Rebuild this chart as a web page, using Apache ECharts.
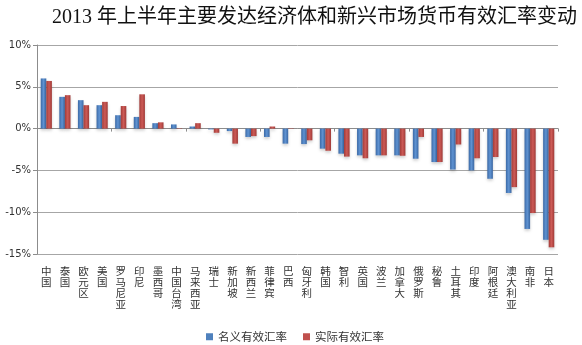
<!DOCTYPE html>
<html><head><meta charset="utf-8">
<script src="https://cdn.jsdelivr.net/npm/echarts@6/dist/echarts.min.js"></script>
<style>html,body{margin:0;padding:0;background:#fff}#c{width:582px;height:345px}</style>
</head><body><div id="c"></div>
<script>
const titleText = '2013 年上半年主要发达经济体和新兴市场货币有效汇率变动';
const categories = ['中国','泰国','欧元区','美国','罗马尼亚','印尼','墨西哥','中国台湾','马来西亚','瑞士','新加坡','新西兰','菲律宾','巴西','匈牙利','韩国','智利','英国','波兰','加拿大','俄罗斯','秘鲁','土耳其','印度','阿根廷','澳大利亚','南非','日本'];
const seriesNames = ['名义有效汇率','实际有效汇率'];
const nominal = [6.0,3.8,3.4,2.8,1.6,1.4,0.65,0.5,0.25,-0.1,-0.3,-1.0,-1.0,-1.8,-1.85,-2.4,-3.0,-3.2,-3.2,-3.2,-3.6,-4.0,-4.9,-5.0,-6.0,-7.7,-12.0,-13.3];
const real = [5.7,4.0,2.8,3.2,2.7,4.1,0.75,0.05,0.65,-0.5,-1.8,-0.9,0.25,-0.05,-1.4,-2.65,-3.35,-3.55,-3.2,-3.25,-1.0,-4.0,-1.9,-3.55,-3.4,-7.0,-10.1,-14.2];
const yTicks = {min:-15, max:10, interval:5};

const chart = echarts.init(document.getElementById('c'));
function grad(c1,c2,c3){return new echarts.graphic.LinearGradient(0,0,1,0,[{offset:0,color:c1},{offset:0.5,color:c2},{offset:1,color:c3}]);}
chart.setOption({
  animation:false,
  backgroundColor:'#fff',
  title:{text:titleText,left:47,top:3,textStyle:{fontFamily:"'Liberation Serif','Noto Sans CJK SC',serif",fontSize:20,fontWeight:'normal',color:'#111'}},
  legend:{data:[{name:seriesNames[0],itemStyle:{color:'#4f81bd'}},{name:seriesNames[1],itemStyle:{color:'#c0504d'}}],
    left:201,top:326,icon:'rect',itemWidth:7,itemHeight:7,itemGap:16,textStyle:{fontSize:11.5,color:'#333',fontFamily:"'Noto Sans CJK SC',sans-serif"}},
  grid:{left:37,right:24,top:45,bottom:91,containLabel:false},
  xAxis:[{type:'category',data:categories,position:'bottom',
    axisLine:{show:false,onZero:false},axisTick:{show:false},
    axisLabel:{interval:0,margin:12,fontSize:10.5,lineHeight:11,color:'#333',fontFamily:"'Noto Sans CJK SC',sans-serif",verticalAlign:'top',
      formatter:v=>v.split('').join('\n')}},
   {type:'category',data:categories,position:'top',
    axisLine:{show:true,onZero:true,lineStyle:{color:'#8c8c8c',width:1}},
    axisTick:{show:true,inside:true,length:3,lineStyle:{color:'#8c8c8c'}},
    axisLabel:{show:false},splitLine:{show:false}}],
  yAxis:{type:'value',min:yTicks.min,max:yTicks.max,interval:yTicks.interval,
    axisLine:{show:true,lineStyle:{color:'#8c8c8c'}},
    axisTick:{show:true,length:4,lineStyle:{color:'#8c8c8c'}},
    axisLabel:{formatter:v=>v+'%',fontSize:10,color:'#333',margin:6,fontFamily:"'DejaVu Sans',sans-serif"},
    splitLine:{show:true,lineStyle:{color:'#a6a6a6',width:1}}},
  series:[
    {name:seriesNames[0],type:'bar',data:nominal,xAxisIndex:0,barGap:'0%',barCategoryGap:'40%',
     itemStyle:{color:grad('#3b69a6','#5f93d2','#3a67a3'),shadowColor:'rgba(0,0,0,0.18)',shadowBlur:3,shadowOffsetY:2}},
    {name:seriesNames[1],type:'bar',data:real,xAxisIndex:0,barGap:'0%',barCategoryGap:'40%',
     itemStyle:{color:grad('#a33c39','#cc5a56','#a03a37'),shadowColor:'rgba(0,0,0,0.18)',shadowBlur:3,shadowOffsetY:2}}
  ]
});
</script></body></html>
